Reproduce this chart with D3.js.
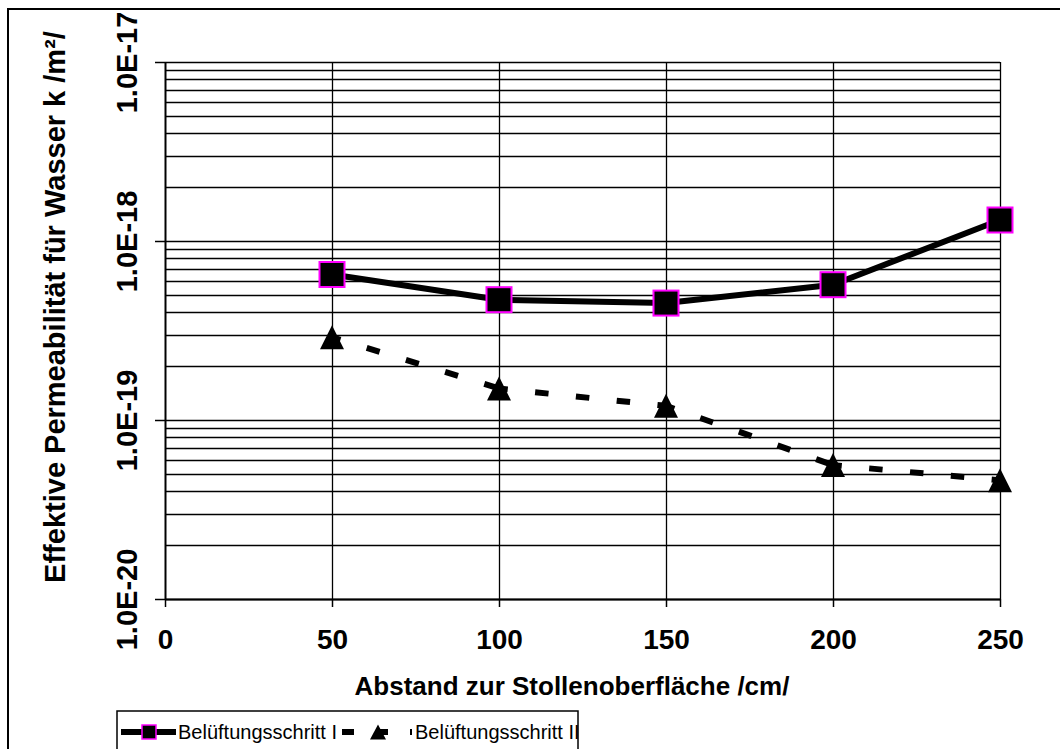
<!DOCTYPE html>
<html>
<head>
<meta charset="utf-8">
<script src="https://cdn.jsdelivr.net/npm/d3@7"></script>
<style>
  html, body { margin: 0; padding: 0; background: #fff; }
  svg { display: block; }
  text { font-family: "Liberation Sans", Arial, sans-serif; fill: #000; }
</style>
</head>
<body>
<svg id="chart" width="1060" height="749"></svg>
<script>
// Distance from the gallery surface (cm)
const distance = [50, 100, 150, 200, 250];
// Effective permeability to water k (m²), aeration step I and II
const stepI = [6.5e-19, 4.7e-19, 4.5e-19, 5.7e-19, 1.31e-18];
const stepII = [2.9e-19, 1.5e-19, 1.2e-19, 5.6e-20, 4.6e-20];
const seriesNames = ["Belüftungsschritt I", "Belüftungsschritt II"];

const xTicks = [0, 50, 100, 150, 200, 250];
const yTicks = [1e-20, 1e-19, 1e-18, 1e-17];
const yTickLabels = ["1.0E-20", "1.0E-19", "1.0E-18", "1.0E-17"];

const xTitle = "Abstand zur Stollenoberfläche /cm/";
const yTitle = "Effektive Permeabilität für Wasser k /m²/";

const svg = d3.select("#chart");
const plotL = 165, plotR = 1000, plotT = 62, plotB = 599;

const x = d3.scaleLinear().domain([0, 250]).range([plotL, plotR]);
const y = d3.scaleLog().domain([1e-20, 1e-17]).range([plotB, plotT]);

// outer chart frame (continues past the right and bottom edges)
svg.append("rect")
  .attr("x", 8).attr("y", 9).attr("width", 1200).attr("height", 900)
  .attr("fill", "#fff").attr("stroke", "#000").attr("stroke-width", 2);

// horizontal gridlines at every 1..9 × 10^n
const grid = svg.append("g").attr("stroke", "#000").attr("stroke-width", 1.3);
grid.selectAll("line.h")
  .data(y.ticks())
  .join("line")
  .attr("class", "h")
  .attr("x1", plotL).attr("x2", plotR)
  .attr("y1", d => Math.round(y(d)) + 0.5).attr("y2", d => Math.round(y(d)) + 0.5);

// vertical gridlines
grid.selectAll("line.v")
  .data(xTicks.filter(d => d > 0))
  .join("line")
  .attr("class", "v")
  .attr("y1", plotT).attr("y2", plotB)
  .attr("x1", d => Math.round(x(d)) + 0.5).attr("x2", d => Math.round(x(d)) + 0.5);

// y axis
const yAxis = svg.append("g")
  .attr("transform", `translate(${plotL},0)`)
  .call(d3.axisLeft(y).tickValues(yTicks)
    .tickFormat((d, i) => yTickLabels[i])
    .tickSize(10).tickSizeOuter(0));
yAxis.select(".domain").attr("stroke-width", 2);
yAxis.selectAll(".tick line").attr("stroke-width", 1.5);
yAxis.selectAll(".tick text")
  .attr("x", 0).attr("y", 0).attr("dy", 0)
  .attr("text-anchor", "middle")
  .attr("transform", "translate(-28,0) rotate(-90)")
  .style("font-size", "29px").style("font-weight", "bold")
  .style("font-family", "'Liberation Sans', Arial, sans-serif");

// x axis
const xAxis = svg.append("g")
  .attr("transform", `translate(0,${plotB})`)
  .call(d3.axisBottom(x).tickValues(xTicks).tickSize(8).tickSizeOuter(0));
xAxis.select(".domain").attr("stroke-width", 2);
xAxis.selectAll(".tick line").attr("stroke-width", 1.5);
xAxis.selectAll(".tick text")
  .attr("y", 50).attr("dy", 0)
  .style("font-size", "28px").style("font-weight", "bold")
  .style("font-family", "'Liberation Sans', Arial, sans-serif");

// axis titles
svg.append("text")
  .attr("x", 572).attr("y", 695)
  .attr("text-anchor", "middle")
  .style("font-size", "26px").style("font-weight", "bold")
  .text(xTitle);

svg.append("text")
  .attr("transform", "translate(65,307) rotate(-90)")
  .attr("text-anchor", "middle")
  .style("font-size", "29px").style("font-weight", "bold")
  .text(yTitle);

const line = d3.line().x(d => x(d[0])).y(d => y(d[1]));
const ptsI = distance.map((d, i) => [d, stepI[i]]);
const ptsII = distance.map((d, i) => [d, stepII[i]]);

// triangle marker centred on its bounding box
const triangle = (w, h) => ({
  draw(ctx) {
    ctx.moveTo(0, -h / 2);
    ctx.lineTo(w / 2, h / 2);
    ctx.lineTo(-w / 2, h / 2);
    ctx.closePath();
  }
});

// step II: dashed line, the dash pattern restarts on every segment
svg.append("g").selectAll("path")
  .data(d3.pairs(ptsII))
  .join("path")
  .attr("d", d => line(d))
  .attr("fill", "none").attr("stroke", "#000")
  .attr("stroke-width", 6).attr("stroke-dasharray", "13.5,27.5")
  .attr("stroke-dashoffset", 4.7);

svg.append("g").selectAll("path")
  .data(ptsII)
  .join("path")
  .attr("d", d3.symbol().type(triangle(24, 24)))
  .attr("transform", d => `translate(${x(d[0])},${y(d[1])})`)
  .attr("fill", "#000");

// step I: solid line with squares
svg.append("path")
  .attr("d", line(ptsI))
  .attr("fill", "none").attr("stroke", "#000")
  .attr("stroke-width", 6).attr("stroke-linejoin", "round");

const sq = 25;
svg.append("g").selectAll("rect")
  .data(ptsI)
  .join("rect")
  .attr("x", d => x(d[0]) - sq / 2).attr("y", d => y(d[1]) - sq / 2)
  .attr("width", sq).attr("height", sq)
  .attr("fill", "#000").attr("stroke", "#ff00ff").attr("stroke-width", 2);

// legend
const lg = svg.append("g");
lg.append("rect")
  .attr("x", 117).attr("y", 711).attr("width", 461).attr("height", 80)
  .attr("fill", "#fff").attr("stroke", "#000").attr("stroke-width", 1.5);

const ly = 732;
lg.append("line")
  .attr("x1", 121).attr("x2", 176).attr("y1", ly).attr("y2", ly)
  .attr("stroke", "#000").attr("stroke-width", 6);
lg.append("rect")
  .attr("x", 142).attr("y", ly - 7).attr("width", 14).attr("height", 14)
  .attr("fill", "#000").attr("stroke", "#ff00ff").attr("stroke-width", 1.5);
lg.append("text")
  .attr("x", 178).attr("y", 739)
  .style("font-size", "20px")
  .text(seriesNames[0]);

lg.append("line")
  .attr("x1", 342).attr("x2", 412).attr("y1", ly).attr("y2", ly)
  .attr("stroke", "#000").attr("stroke-width", 6)
  .attr("stroke-dasharray", "12,22");
lg.append("path")
  .attr("d", d3.symbol().type(triangle(16, 15)))
  .attr("transform", `translate(378,${ly})`)
  .attr("fill", "#000");
lg.append("text")
  .attr("x", 415).attr("y", 739)
  .style("font-size", "20px")
  .text(seriesNames[1]);
</script>
</body>
</html>
